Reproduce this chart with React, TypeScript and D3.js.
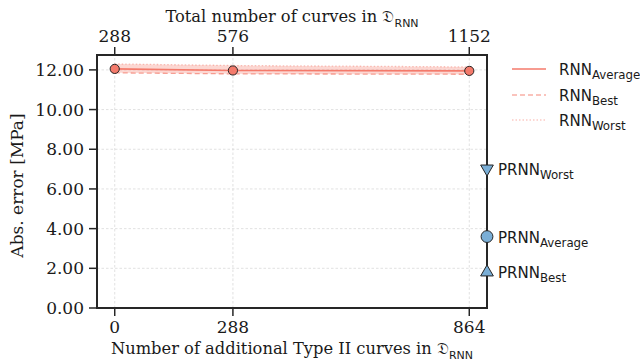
import React from "react";
import * as d3 from "d3";

// Additional Type II curves added to the training set
const additionalCurves = [0, 288, 864];
// Total curves in the dataset for each configuration (top axis)
const totalCurves = [288, 576, 1152];

// RNN errors [MPa]
const rnnAverage = [12.05, 11.97, 11.95];
const rnnBest = [11.85, 11.8, 11.78];
const rnnWorst = [12.3, 12.22, 12.15];

// PRNN reference errors [MPa]
const prnnLabels = ["Worst", "Average", "Best"];
const prnnValues = [7.02, 3.6, 1.8];
const prnnShapes = ["triangleDown", "circle", "triangleUp"];

const yTicks = [0, 2, 4, 6, 8, 10, 12];

const W = 640;
const H = 362;
const margin = { left: 97, right: 153, top: 55, bottom: 54 };

const SERIF = "'DejaVu Serif', serif";
const SANS = "'DejaVu Sans', sans-serif";
const RED = "#f47a6b";
const BLUE = "#7aaed6";
const DARK = "#262626";

function Sub({ main, sub, size, subSize }: { main: string; sub: string; size: number; subSize: number }) {
  return (
    <>
      <tspan fontSize={size}>{main}</tspan>
      <tspan fontSize={subSize} dy={size * 0.28} fontFamily={SANS}>
        {sub}
      </tspan>
    </>
  );
}

export default function App() {
  const x = d3
    .scaleLinear()
    .domain([-43.2, 907.2])
    .range([margin.left, W - margin.right]);
  const y = d3
    .scaleLinear()
    .domain([0, 12.75])
    .range([H - margin.bottom, margin.top]);

  const x0 = x.range()[0];
  const x1 = x.range()[1];
  const y0 = y.range()[0];
  const y1 = y.range()[1];

  const rows = additionalCurves.map((a, i) => ({
    a,
    avg: rnnAverage[i],
    best: rnnBest[i],
    worst: rnnWorst[i],
  }));

  const band = d3
    .area<(typeof rows)[number]>()
    .x((d) => x(d.a))
    .y0((d) => y(d.best))
    .y1((d) => y(d.worst))(rows)!;
  const lineOf = (key: "avg" | "best" | "worst") =>
    d3
      .line<(typeof rows)[number]>()
      .x((d) => x(d.a))
      .y((d) => y(d[key]))(rows)!;

  const fmt = d3.format(".2f");
  const prnnX = x(x.domain()[1]);

  const symbolPath = (shape: string) => {
    if (shape === "circle") return d3.symbol(d3.symbolCircle, 110)()!;
    return d3.symbol(d3.symbolTriangle, 70)()!;
  };

  const legendItems = [
    { label: "Average", dash: "none", color: RED, opacity: 1 },
    { label: "Best", dash: "5,3", color: RED, opacity: 0.6 },
    { label: "Worst", dash: "1.5,2", color: RED, opacity: 0.4 },
  ];
  const legendY = [69, 95, 120];

  return (
    <svg
      width={W}
      height={H}
      style={{ position: "absolute", left: 0, top: 0, background: "#fff" }}
    >
      {/* grid */}
      <g stroke="#d9d9d9" strokeWidth={0.8} strokeDasharray="2.5,2">
        {yTicks.map((t) => (
          <line key={"gy" + t} x1={x0} x2={x1} y1={y(t)} y2={y(t)} />
        ))}
        {additionalCurves.map((t) => (
          <line key={"gx" + t} x1={x(t)} x2={x(t)} y1={y0} y2={y1} />
        ))}
      </g>

      {/* RNN spread band and lines */}
      <path d={band} fill={RED} fillOpacity={0.3} stroke="none" />
      <path d={lineOf("worst")} fill="none" stroke={RED} strokeOpacity={0.45} strokeWidth={1.3} strokeDasharray="1.5,2" />
      <path d={lineOf("best")} fill="none" stroke={RED} strokeOpacity={0.7} strokeWidth={1.3} strokeDasharray="5,3" />
      <path d={lineOf("avg")} fill="none" stroke={RED} strokeWidth={1.6} />
      {rows.map((d) => (
        <circle key={"p" + d.a} cx={x(d.a)} cy={y(d.avg)} r={4.6} fill={RED} stroke={DARK} strokeWidth={1} />
      ))}

      {/* frame */}
      <rect x={x0} y={y1} width={x1 - x0} height={y0 - y1} fill="none" stroke={DARK} strokeWidth={2} />

      {/* left axis */}
      {yTicks.map((t) => (
        <g key={"yt" + t}>
          <line x1={x0 - 8} x2={x0} y1={y(t)} y2={y(t)} stroke={DARK} strokeWidth={1.5} />
          <text x={x0 - 13} y={y(t) + 6} textAnchor="end" fontFamily={SERIF} fontSize={17} fill="#1a1a1a">
            {fmt(t)}
          </text>
        </g>
      ))}

      {/* bottom axis */}
      {additionalCurves.map((t) => (
        <g key={"xb" + t}>
          <line x1={x(t)} x2={x(t)} y1={y0} y2={y0 + 8} stroke={DARK} strokeWidth={1.5} />
          <text x={x(t)} y={y0 + 25} textAnchor="middle" fontFamily={SERIF} fontSize={17} fill="#1a1a1a">
            {t}
          </text>
        </g>
      ))}

      {/* top axis */}
      {additionalCurves.map((t, i) => (
        <g key={"xt" + t}>
          <line x1={x(t)} x2={x(t)} y1={y1} y2={y1 - 8} stroke={DARK} strokeWidth={1.5} />
          <text x={x(t)} y={y1 - 13} textAnchor="middle" fontFamily={SERIF} fontSize={17} fill="#1a1a1a">
            {totalCurves[i]}
          </text>
        </g>
      ))}

      {/* axis titles */}
      <text x={(x0 + x1) / 2} y={354} textAnchor="middle" fontFamily={SERIF} fontSize={16.3} fill="#1a1a1a">
        <tspan>Number of additional Type II curves in </tspan>
        <Sub main="𝔇" sub="RNN" size={16.3} subSize={11} />
      </text>
      <text x={(x0 + x1) / 2} y={22} textAnchor="middle" fontFamily={SERIF} fontSize={16.3} fill="#1a1a1a">
        <tspan>Total number of curves in </tspan>
        <Sub main="𝔇" sub="RNN" size={16.3} subSize={11} />
      </text>
      <text
        transform={`translate(23, ${(y0 + y1) / 2 + 4}) rotate(-90)`}
        textAnchor="middle"
        fontFamily={SERIF}
        fontSize={17}
        fill="#1a1a1a"
      >
        Abs. error [MPa]
      </text>

      {/* PRNN markers */}
      {prnnValues.map((v, i) => (
        <g key={"prnn" + i}>
          <path
            d={symbolPath(prnnShapes[i])}
            transform={`translate(${prnnX}, ${y(v)}) rotate(${prnnShapes[i] === "triangleDown" ? 180 : 0})`}
            fill={BLUE}
            stroke={DARK}
            strokeWidth={1}
          />
          <text x={prnnX + 11} y={y(v) + 6} fontFamily={SANS} fill="#1a1a1a">
            <Sub main="PRNN" sub={prnnLabels[i]} size={15} subSize={11.8} />
          </text>
        </g>
      ))}

      {/* legend */}
      {legendItems.map((it, i) => (
        <g key={"lg" + i}>
          <line
            x1={512}
            x2={546}
            y1={legendY[i]}
            y2={legendY[i]}
            stroke={it.color}
            strokeOpacity={it.opacity}
            strokeWidth={1.5}
            strokeDasharray={it.dash}
          />
          <text x={559} y={legendY[i] + 6} fontFamily={SANS} fill="#1a1a1a">
            <Sub main="RNN" sub={it.label} size={15} subSize={11.8} />
          </text>
        </g>
      ))}
    </svg>
  );
}
